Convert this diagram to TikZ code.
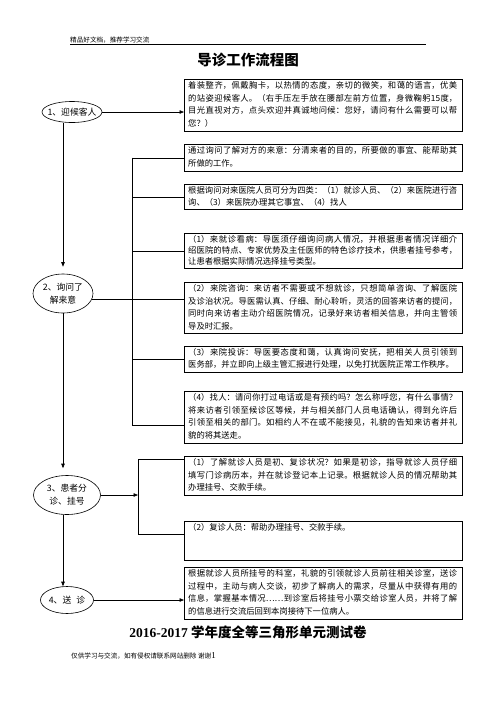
\documentclass[tikz,border=0pt]{standalone}
\usepackage{fontspec}
\setmainfont{Noto Sans CJK SC}
\newfontfamily\serifnum{Liberation Serif}
\usetikzlibrary{shapes.geometric,arrows.meta,calc}
\XeTeXlinebreaklocale "zh"
\XeTeXlinebreakskip=0pt plus 1pt
\begin{document}
\begin{tikzpicture}[x=1pt,y=-1pt,
  box/.style={draw, line width=0.9pt, minimum width=278pt, inner sep=0pt, anchor=north west},
  btext/.style={anchor=north west, inner sep=0pt, text width=269pt, align=justify, font=\fontsize{8.3}{12.5}\selectfont},
  oval/.style={draw, ellipse, line width=0.6pt, inner xsep=-8pt, inner ysep=-4pt, align=center, font=\fontsize{8.8}{13}\selectfont},
  conn/.style={line width=0.6pt},
  arr/.style={conn, -{Triangle[length=4.5pt,width=3.5pt]}}]
\useasboundingbox (0,0) rectangle (496,702);
\fill[white] (0,0) rectangle (496,702);

% header
\node[anchor=west, inner sep=0pt, font=\fontsize{6.6}{7}\selectfont] (hdr) at (70,40) {精品好文档，推荐学习交流};
\draw[line width=0.7pt] (70,44.5) -- (426,44.5);
\node[inner sep=0pt, font=\fontsize{14.5}{16}\selectfont\bfseries] (title) at (248,60) {导诊工作流程图};

% left ovals
\coordinate (sp) at (63,0);
\node[oval, minimum width=60pt, minimum height=21pt] (e1) at (72,112) {1、迎候客人};
\node[oval, minimum width=60pt, minimum height=39pt] (e2) at (63,293.5) {2、询问了\\解来意};
\node[oval, minimum width=67pt, minimum height=39pt] (e3) at (67,495) {3、患者分\\诊、挂号};
\node[oval, minimum width=53pt, minimum height=27pt] (e4) at (67,600) {4、送\hspace{5pt}诊};

% boxes
\node[box, minimum height=52pt] (b1) at (184,79) {};
\node[btext] (t1) at ([xshift=4pt,yshift=-2.5pt]b1.north west) {着装整齐，佩戴胸卡，以热情的态度，亲切的微笑，和蔼的语言，优美\linebreak 的站姿迎候客人。（右手压左手放在腰部左前方位置，身微鞠躬15度，\linebreak 目光直视对方，点头欢迎并真诚地问候：您好，请问有什么需要可以帮\linebreak 您？）};

\node[box, minimum height=27pt] (b2) at (184,144) {};
\node[btext] (t2) at ([xshift=4pt,yshift=-2.5pt]b2.north west) {通过询问了解对方的来意：分清来者的目的，所要做的事宜、能帮助其\linebreak 所做的工作。};

\node[box, minimum height=25pt] (b3) at (184,184) {};
\node[btext] (t3) at ([xshift=4pt,yshift=-2pt]b3.north west) {根据询问对来医院人员可分为四类：（1）就诊人员、（2）来医院进行咨\linebreak 询、（3）来医院办理其它事宜、（4）找人};

\node[box, minimum height=35pt] (b4) at (184,233) {};
\node[btext, font=\fontsize{8.3}{11}\selectfont] (t4) at ([xshift=4pt,yshift=-2pt]b4.north west) {（1）来就诊看病：导医须仔细询问病人情况，并根据患者情况详细介\linebreak 绍医院的特点、专家优势及主任医师的特色诊疗技术，供患者挂号参考，\linebreak 让患者根据实际情况选择挂号类型。};

\node[box, minimum height=51pt] (b5) at (184,282) {};
\node[btext] (t5) at ([xshift=4pt,yshift=-2.5pt]b5.north west) {（2）来院咨询：来访者不需要或不想就诊，只想简单咨询、了解医院\linebreak 及诊治状况。导医需认真、仔细、耐心聆听，灵活的回答来访者的提问，\linebreak 同时向来访者主动介绍医院情况，记录好来访者相关信息，并向主管领\linebreak 导及时汇报。};

\node[box, minimum height=26pt] (b6) at (184,346) {};
\node[btext] (t6) at ([xshift=4pt,yshift=-2pt]b6.north west) {（3）来院投诉：导医要态度和蔼，认真询问安抚，把相关人员引领到\linebreak 医务部，并立即向上级主管汇报进行处理，以免打扰医院正常工作秩序。};

\node[box, minimum height=52pt] (b7) at (184,391) {};
\node[btext] (t7) at ([xshift=4pt,yshift=-2.5pt]b7.north west) {（4）找人：请问你打过电话或是有预约吗？怎么称呼您，有什么事情？\linebreak 将来访者引领至候诊区等候，并与相关部门人员电话确认，得到允许后\linebreak 引领至相关的部门。如相约人不在或不能接见，礼貌的告知来访者并礼\linebreak 貌的将其送走。};

\node[box, minimum height=39pt] (b8) at (184,456) {};
\node[btext] (t8) at ([xshift=4pt,yshift=-2.5pt]b8.north west) {（1）了解就诊人员是初、复诊状况？如果是初诊，指导就诊人员仔细\linebreak 填写门诊病历本，并在就诊登记本上记录。根据就诊人员的情况帮助其\linebreak 办理挂号、交款手续。};

\node[box, minimum height=39pt] (b9) at (184,521) {};
\node[btext] (t9) at ([xshift=4pt,yshift=-2.5pt]b9.north west) {（2）复诊人员：帮助办理挂号、交款手续。};

\node[box, minimum height=52pt] (b10) at (184,567) {};
\node[btext] (t10) at ([xshift=4pt,yshift=-2.5pt]b10.north west) {根据就诊人员所挂号的科室，礼貌的引领就诊人员前往相关诊室，送诊\linebreak 过程中，主动与病人交谈，初步了解病人的需求，尽量从中获得有用的\linebreak 信息，掌握基本情况……到诊室后将挂号小票交给诊室人员，并将了解\linebreak 的信息进行交流后回到本岗接待下一位病人。};

% connectors
\draw[arr] (e1.east) -- (e1.east -| b1.west);
\draw[arr, shorten >=7pt] (e1.south -| sp) -- (e2.north);
\draw[arr, shorten >=7pt] (e2.south) -- (e3.north -| sp);
\draw[arr] (e3.south -| sp) -- (e4.north -| sp);
\draw[arr] (e4.east) -- (e4.east -| b10.west);

\coordinate (bus) at (132,157.5);
\coordinate (busend) at (132,425);
\draw[conn] (bus) -- (busend);
\draw[conn] (bus |- b2.west) -- (b2.west);
\draw[conn] (bus |- b3.west) -- (b3.west);
\draw[conn] (bus |- b4.west) -- (b4.west);
\draw[conn] (e2.-12) -- (e2.-12 -| b5.west);
\draw[conn] (bus |- b6.west) -- (b6.west);
\draw[conn] (busend) -- (busend -| b7.west);

\coordinate (busa) at (138,459);
\coordinate (busb) at (138,534);
\draw[conn] (busa -| b8.west) -- (busa) -- (busb) -- (busb -| b9.west);
\draw[arr] (e3.east) -- (e3.east -| busa);

% footer
\node[inner sep=0pt, font=\fontsize{13.5}{15}\selectfont\bfseries] (ft) at (248,632.5) {{\serifnum 2016-2017} 学年度全等三角形单元测试卷};
\node[anchor=west, inner sep=0pt, font=\fontsize{6.6}{7}\selectfont] (fn) at (71,656) {仅供学习与交流，如有侵权请联系网站删除\ 谢谢{\serifnum\fontsize{9}{9}\selectfont 1}};
\end{tikzpicture}
\end{document}
